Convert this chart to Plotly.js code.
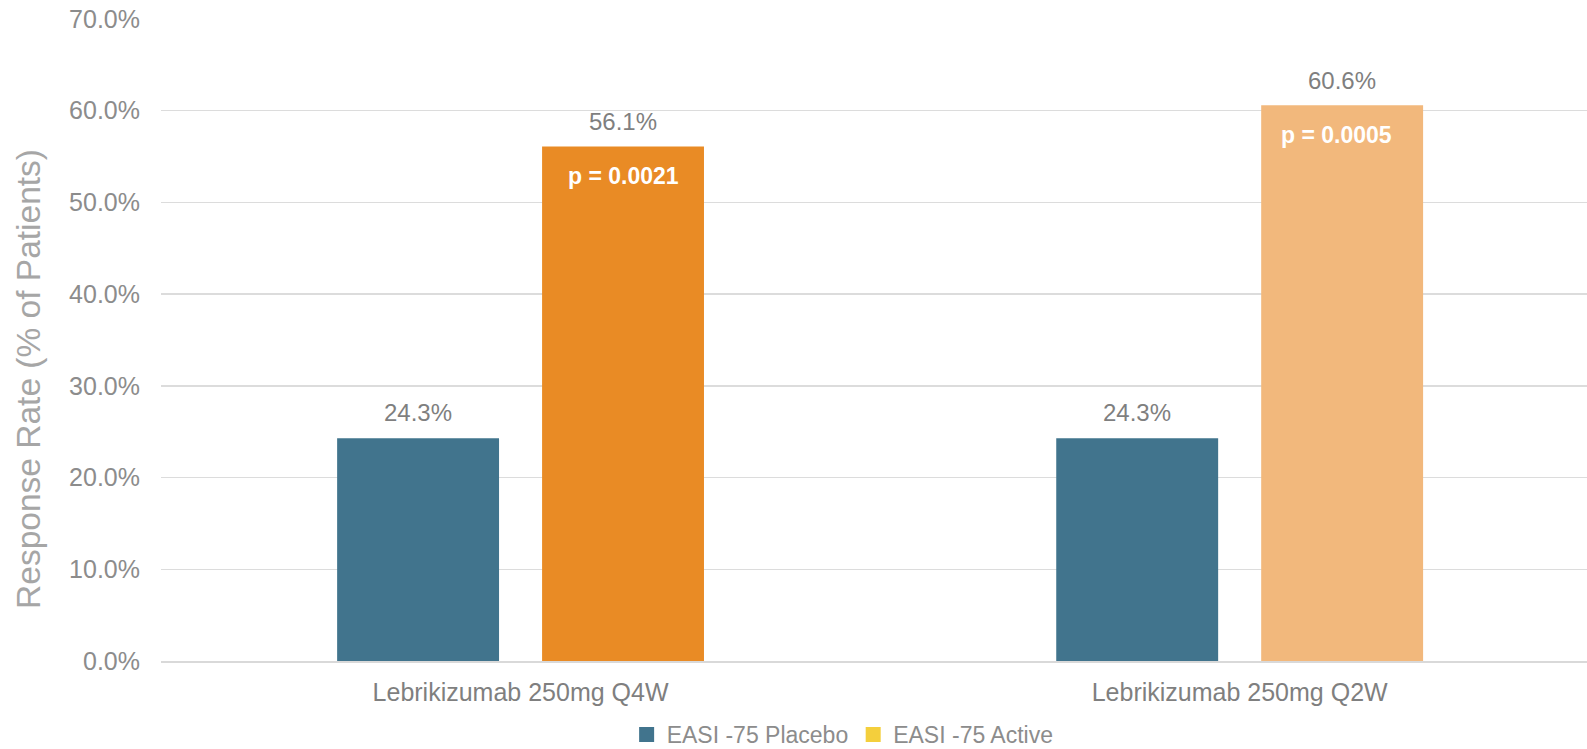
<!DOCTYPE html>
<html><head><meta charset="utf-8">
<script src="https://cdn.plot.ly/plotly-3.0.1.min.js"></script>
<style>html,body{margin:0;padding:0;background:#fff}#chart{width:1587px;height:749px}</style>
</head><body><div id="chart"></div>
<script>
const categories = ["Lebrikizumab 250mg Q4W", "Lebrikizumab 250mg Q2W"];
const placeboValues = [24.3, 24.3];
const activeValues = [56.1, 60.6];
const pValueLabels = ["p = 0.0021", "p = 0.0005"];
const seriesNames = ["EASI -75 Placebo", "EASI -75 Active"];
const yTickValues = [0, 10, 20, 30, 40, 50, 60, 70];
const yTickLabels = yTickValues.map(v => v.toFixed(1) + "%");
const yTitle = "Response Rate (% of Patients)";

const placeboColor = "#41748d";
const activeColors = ["#e98b25", "#f2b87c"];
const activeLegendColor = "#f4cf3c";
const font = "Liberation Sans, Arial, sans-serif";
const halfSlot = 102.5;

const traces = [
  {type: "bar", x: categories, y: placeboValues, name: seriesNames[0],
   marker: {color: placeboColor}, showlegend: false, hoverinfo: "skip"},
  {type: "bar", x: categories, y: activeValues, name: seriesNames[1],
   marker: {color: activeColors}, showlegend: false, hoverinfo: "skip"},
  {type: "scatter", mode: "markers", x: [categories[0]], y: [null], name: seriesNames[0],
   marker: {color: placeboColor, symbol: "square", size: 15}, showlegend: true},
  {type: "scatter", mode: "markers", x: [categories[0]], y: [null], name: seriesNames[1],
   marker: {color: activeLegendColor, symbol: "square", size: 15}, showlegend: true}
];

const annotations = [];
categories.forEach((c, i) => {
  annotations.push({x: c, y: placeboValues[i], xref: "x", yref: "y", xshift: -halfSlot, yshift: 26,
    text: placeboValues[i].toFixed(1) + "%", showarrow: false, yanchor: "middle",
    font: {family: font, size: 24, color: "#7f7f7f"}});
  annotations.push({x: c, y: activeValues[i], xref: "x", yref: "y", xshift: halfSlot, yshift: 25,
    text: activeValues[i].toFixed(1) + "%", showarrow: false, yanchor: "middle",
    font: {family: font, size: 24, color: "#7f7f7f"}});
  annotations.push({x: c, y: activeValues[i], xref: "x", yref: "y", xshift: halfSlot - (i === 1 ? 6 : 0), yshift: -30,
    text: "<b>" + pValueLabels[i] + "</b>", showarrow: false, yanchor: "middle",
    font: {family: font, size: 23, color: "#ffffff"}});
});
annotations.push({x: -0.093, y: 0.44, xref: "paper", yref: "paper", text: yTitle, textangle: -90,
  showarrow: false, xanchor: "center", yanchor: "middle",
  font: {family: font, size: 33.5, color: "#a6a6a6"}});

const layout = {
  width: 1587, height: 749,
  margin: {l: 161, r: 0, t: 19, b: 88, pad: 0, autoexpand: false},
  paper_bgcolor: "#ffffff", plot_bgcolor: "#ffffff",
  barmode: "group", bargap: 0.43, bargroupgap: 0.21,
  showlegend: true,
  legend: {orientation: "h", x: 0.478, xanchor: "center", xref: "paper", y: -0.081, yanchor: "top",
    font: {family: font, size: 23, color: "#8c8c8c"}, traceorder: "normal", itemclick: false, itemwidth: 30},
  xaxis: {type: "category", range: [-0.5, 1.483], showgrid: false, zeroline: false,
    showline: true, linecolor: "#d9d9d9", linewidth: 1.5, ticks: "",
    tickfont: {family: font, size: 25, color: "#7f7f7f"}, ticklabelstandoff: 8, automargin: false},
  yaxis: {range: [0, 70], tickvals: yTickValues, ticktext: yTickLabels,
    showgrid: true, gridcolor: "#dcdcdc", gridwidth: 1.5, zeroline: false, showline: false,
    tickfont: {family: font, size: 25, color: "#8c8c8c"}, ticklabelstandoff: 20, automargin: false},
  annotations: annotations
};

Plotly.newPlot("chart", traces, layout, {staticPlot: true, displayModeBar: false});
</script></body></html>
